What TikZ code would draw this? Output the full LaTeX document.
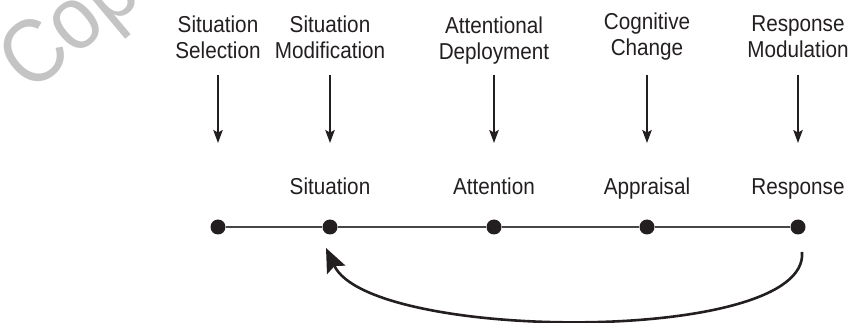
\documentclass[tikz,border=0pt]{standalone}
\usepackage{fontspec}
\setmainfont{Liberation Sans}[FakeStretch=0.9]
\usetikzlibrary{arrows.meta,calc}
\definecolor{inkgray}{RGB}{35,31,32}
\definecolor{linegray}{RGB}{70,70,70}
\definecolor{markgray}{RGB}{196,196,196}
\tikzset{
  stage/.style={align=center,inner sep=0pt,text=inkgray,
                font=\fontsize{23}{26}\selectfont},
  focus/.style={anchor=base,inner sep=0pt,text=inkgray,
                font=\fontsize{23}{26}\selectfont},
  dot/.style={circle,fill=inkgray,minimum size=15pt,inner sep=0pt},
  down/.style={-{Stealth[length=13pt,width=9.5pt,inset=2.5pt]},
               line width=1.3pt,inkgray},
  timeline/.style={line width=2pt,linegray},
  loopback/.style={-{Stealth[length=24pt,width=20pt,inset=4pt]},
                   line width=2.6pt,inkgray},
}

\begin{document}
\begin{tikzpicture}[x=1pt,y=-1pt]
  \useasboundingbox (0,0) rectangle (852,323);
  % watermark in the corner
  \node[markgray,rotate=40,anchor=base west,inner sep=0pt,
        font=\fontsize{90}{90}\selectfont] (mark) at (30,95) {Cop};
  % strategies, their arrows and the dots of the process
  \foreach \i/\x/\y/\l in {1/218/37/{Situation\\Selection},
                           2/330/37/{Situation\\Modification},
                           3/494/41/{Attentional\\Deployment},
                           4/647/37/{Cognitive\\Change},
                           5/798/37/{Response\\Modulation}}{
    \node[stage] (stage\i) at (\x,\y) {\l};
    \coordinate (top\i) at (\x,75);
    \coordinate (tip\i) at (\x,143);
    \draw[down] (top\i) -- (tip\i);
    \node[dot] (d\i) at (\x,227) {};
  }
  \foreach \i/\l in {2/Situation,3/Attention,4/Appraisal,5/Response}{
    \node[focus] (step\i) at ($(d\i)+(0,-32)$) {\l};
  }
  \draw[timeline] (d1) -- (d2) -- (d3) -- (d4) -- (d5);
  % feedback loop
  \coordinate (from) at ($(d5)+(4,25)$);
  \coordinate (to) at ($(d2)+(-4,21)$);
  \draw[loopback] (from) .. controls +(8,93) and +(44,94) .. (to);
\end{tikzpicture}
\end{document}
